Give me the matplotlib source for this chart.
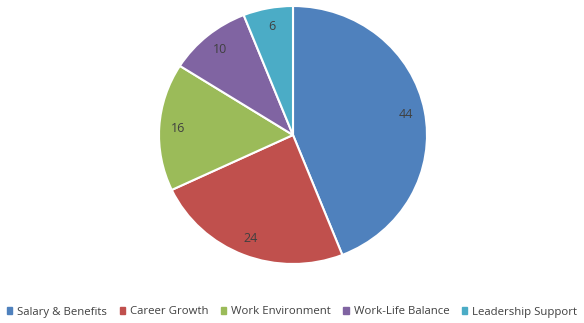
import matplotlib.pyplot as plt
from matplotlib.patches import Rectangle

categories = ['Salary & Benefits', 'Career Growth', 'Work Environment',
              'Work-Life Balance', 'Leadership Support']
values = [44, 24, 16, 10, 6]
colors = ['#4F81BD', '#C0504D', '#9BBB59', '#8064A2', '#4BACC6']

plt.rcParams['font.family'] = ['Open Sans', 'DejaVu Sans']

W, H = 584, 323
fig = plt.figure(figsize=(W / 100, H / 100), dpi=100)

# pie area in pixels: centre (293, 135), radii 134 x 129
cx, cy, rx, ry = 293, 135, 134, 129
ax = fig.add_axes([(cx - rx) / W, (H - cy - ry) / H, 2 * rx / W, 2 * ry / H])

wedges, texts = ax.pie(values, colors=colors, startangle=90, counterclock=False,
                       labels=[str(v) for v in values], labeldistance=0.86,
                       wedgeprops=dict(edgecolor='white', linewidth=1.5))
for t in texts:
    t.set_ha('center')
    t.set_va('center')
    t.set_fontsize(9)
    t.set_color('#404040')
ax.set_aspect('auto')
ax.set_xlim(-1, 1)
ax.set_ylim(-1, 1)

handles = [Rectangle((0, 0), 1, 1, color=c) for c in colors]
fig.legend(handles, categories, loc='center', bbox_to_anchor=(0.5, (H - 312) / H),
           ncol=5, frameon=False, fontsize=8.2, handlelength=0.45, handleheight=0.45,
           handletextpad=0.45, columnspacing=1.1, labelcolor='#404040')

fig.savefig('out.png', dpi=100)
